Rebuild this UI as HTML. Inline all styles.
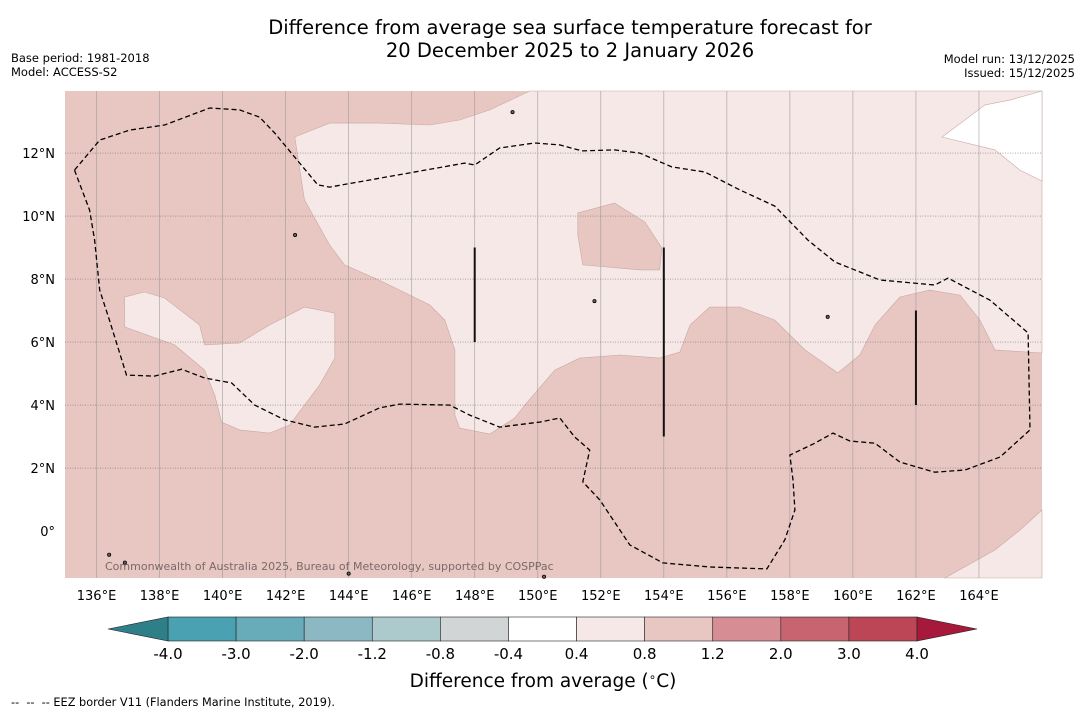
<!DOCTYPE html>
<html><head><meta charset="utf-8">
<style>
body{margin:0;background:#fff;width:1085px;height:713px;overflow:hidden;font-family:"DejaVu Sans","Liberation Sans",sans-serif}
svg{display:block}
</style></head>
<body>
<svg id="chart" width="1085" height="713" xmlns="http://www.w3.org/2000/svg">
<text x="570" y="34" font-size="19.5" text-anchor="middle" font-family="DejaVu Sans,sans-serif">Difference from average sea surface temperature forecast for</text>
<text x="570" y="57" font-size="19.5" text-anchor="middle" font-family="DejaVu Sans,sans-serif">20 December 2025 to 2 January 2026</text>
<text x="11" y="62" font-size="11.5">Base period: 1981-2018</text>
<text x="11" y="76" font-size="11.5">Model: ACCESS-S2</text>
<text x="1075" y="63" font-size="11.5" text-anchor="end">Model run: 13/12/2025</text>
<text x="1075" y="77" font-size="11.5" text-anchor="end">Issued: 15/12/2025</text>
<g id="map"></g>
<g id="cbar"></g>
<text x="543" y="687" font-size="18.5" text-anchor="middle">Difference from average (<tspan font-size="12" dy="-6">∘</tspan><tspan dy="6">C)</tspan></text>
<text x="11" y="706" font-size="11.3" xml:space="preserve">--  --  -- EEZ border V11 (Flanders Marine Institute, 2019).</text>
</svg>
<script>
const lonTicks=[136,138,140,142,144,146,148,150,152,154,156,158,160,162,164];
const latTicks=[0,2,4,6,8,10,12];
const lightRegion=[[142.29,12.51],[143.40,12.95],[144.98,12.95],[146.57,12.89],[147.52,13.05],[148.48,13.37],[149.75,13.97],[166,13.97],[166,5.65],[164.51,5.75],[164.03,6.70],[163.40,7.49],[162.44,7.65],[161.49,7.43],[160.70,6.54],[160.22,5.59],[159.52,5.02],[158.48,5.75],[157.52,6.70],[156.41,7.11],[155.46,7.11],[154.83,6.54],[154.51,5.68],[153.87,5.49],[152.60,5.59],[151.33,5.49],[150.54,5.11],[149.59,4.00],[149.27,3.59],[148.48,3.08],[147.52,3.27],[147.37,3.68],[147.37,5.75],[147.05,6.70],[146.57,7.18],[145.62,7.65],[144.83,8.03],[143.87,8.45],[143.40,9.08],[142.60,10.51]];
const whiteRegion=[[162.83,12.51],[164.19,13.53],[164.98,13.68],[166,13.97],[166,11.11],[165.30,11.46],[164.51,12.10]];
const darkPatch=[[151.27,10.10],[152.44,10.41],[153.40,9.81],[153.94,8.99],[153.87,8.29],[153.24,8.29],[151.43,8.45],[151.27,9.40]];
const lightLeft=[[136.89,7.43],[137.52,7.59],[138.16,7.40],[139.27,6.54],[139.43,5.91],[140.54,5.97],[141.49,6.54],[142.60,7.11],[143.56,6.92],[143.56,5.49],[143.08,4.64],[142.60,4.00],[142.13,3.37],[141.49,3.11],[140.54,3.21],[139.97,3.46],[139.75,4.32],[139.43,5.11],[138.48,5.91],[136.89,6.48]];
const lightBottomRight=[[166,0.67],[165.30,0.03],[164.51,-0.60],[162.92,-1.49],[166,-1.49]];
const eezLine=[[135.30,11.46],[135.78,10.19],[135.94,9.24],[136.10,7.65],[136.41,6.70],[136.95,4.95],[137.84,4.92],[138.70,5.14],[139.43,4.86],[140.29,4.70],[141.02,4.00],[141.97,3.53],[142.92,3.30],[143.87,3.40],[144.98,3.91],[145.62,4.03],[147.21,4.00],[147.84,3.68],[148.79,3.30],[150.06,3.46],[150.70,3.59],[151.17,2.99],[151.65,2.57],[151.43,1.56],[151.97,0.99],[152.92,-0.44],[153.97,-1.01],[155.46,-1.14],[157.27,-1.20],[157.84,-0.28],[158.16,0.67],[158.10,1.62],[158.00,2.41],[158.79,2.79],[159.37,3.11],[159.90,2.86],[160.70,2.79],[161.49,2.19],[162.60,1.87],[163.56,1.94],[164.67,2.35],[165.62,3.21],[165.56,6.29],[164.35,7.33],[163.02,8.03],[162.60,7.81],[160.86,7.97],[159.43,8.54],[158.57,9.24],[157.52,10.32],[156.41,10.83],[155.30,11.40],[154.25,11.56],[153.24,12.00],[152.44,12.10],[151.40,12.07],[150.70,12.26],[149.90,12.32],[148.79,12.16],[148.00,11.62],[147.68,11.68],[143.40,10.92],[143.02,10.99],[141.65,12.64],[141.17,13.14],[140.54,13.37],[139.59,13.43],[138.16,12.89],[137.05,12.73],[136.10,12.41],[135.30,11.46]];
const eezSegLon=[148,154,162];
const eezSegLat0=[6,3,4];
const eezSegLat1=[9,9,7];
const cbLabels=["-4.0","-3.0","-2.0","-1.2","-0.8","-0.4","0.4","0.8","1.2","2.0","3.0","4.0"];
const cbColors=["#4aa1b1","#68abb9","#8bb8c3","#acc9cc","#d1d5d6","#ffffff","#f5e8e6","#e8c6c2","#d68d94","#c8646f","#bd4656"];

const NS='http://www.w3.org/2000/svg';
const X0=65,X1=1042,Y0=91,Y1=578;
const lonMin=135,lonMax=166,latMin=-1.49,latMax=13.97;
const x=lon=>X0+(lon-lonMin)/(lonMax-lonMin)*(X1-X0);
const y=lat=>Y0+(latMax-lat)/(latMax-latMin)*(Y1-Y0);
function mk(tag,parent,attrs){const e=document.createElementNS(NS,tag);for(const k in attrs)e.setAttribute(k,attrs[k]);parent.appendChild(e);return e;}
const pts=a=>a.map(p=>x(p[0]).toFixed(1)+','+y(p[1]).toFixed(1)).join(' ');
const map=document.getElementById('map');
let bg=mk('rect',map,{x:X0,y:Y0,width:X1-X0,height:Y1-Y0,fill:'#e8c6c2'});


const regions=[[lightRegion,'#f5e8e6','anomaly-0.4-0.8-region'],[whiteRegion,'#ffffff','anomaly-neutral-region'],[darkPatch,'#e8c6c2','anomaly-0.8-1.2-patch'],[lightLeft,'#f5e8e6','anomaly-0.4-0.8-west-patch'],[lightBottomRight,'#f5e8e6','anomaly-0.4-0.8-southeast-patch']];
regions.forEach(r=>{const p=mk('polygon',map,{points:pts(r[0]),fill:r[1],stroke:'#c9a9a5','stroke-width':0.6});

});
lonTicks.forEach(l=>{const g=mk('line',map,{x1:x(l),x2:x(l),y1:Y0,y2:Y1,stroke:'#999','stroke-width':0.7,opacity:0.8});


const t=mk('text',map,{x:x(l),y:600,'font-size':13,'text-anchor':'middle'});t.textContent=l+'°E';

});
latTicks.forEach(l=>{if(l>0){const g=mk('line',map,{x1:X0,x2:X1,y1:y(l),y2:y(l),stroke:'#777','stroke-width':0.7,'stroke-dasharray':'1,1.5'});

}
const t=mk('text',map,{x:55,y:y(l)+5,'font-size':13,'text-anchor':'end'});t.textContent=l===0?'0°':l+'°N';

});
const ez=mk('polyline',map,{points:pts(eezLine),fill:'none',stroke:'#000','stroke-width':1.3,'stroke-dasharray':'5,3'});


eezSegLon.forEach((l,i)=>{const s=mk('line',map,{x1:x(l),x2:x(l),y1:y(eezSegLat0[i]),y2:y(eezSegLat1[i]),stroke:'#111','stroke-width':2});

});
const isl=[[136.4,-0.75],[136.9,-1.0],[151.8,7.3],[159.2,6.8],[142.3,9.4],[149.2,13.3],[144.0,-1.35],[150.2,-1.45]];
isl.forEach(p=>{const c=mk('circle',map,{cx:x(p[0]),cy:y(p[1]),r:1.6,fill:'#666',stroke:'#000','stroke-width':0.8});

});
const cp=mk('text',map,{x:105,y:570,'font-size':11,fill:'#7a6a68'});cp.textContent='Commonwealth of Australia 2025, Bureau of Meteorology, supported by COSPPac';



const cb=document.getElementById('cbar');
const B0=168,B1=917,CT=617,CB=641,bw=(B1-B0)/cbColors.length;
cbColors.forEach((c,i)=>{const r=mk('rect',cb,{x:B0+i*bw,y:CT,width:bw,height:CB-CT,fill:c,stroke:'#222','stroke-width':0.6});

});
const lt=mk('polygon',cb,{points:`108,629 ${B0},${CT} ${B0},${CB}`,fill:'#2f7f88',stroke:'#222','stroke-width':0.6});


const rt=mk('polygon',cb,{points:`977,629 ${B1},${CT} ${B1},${CB}`,fill:'#a6193a',stroke:'#222','stroke-width':0.6});


cbLabels.forEach((s,i)=>{const t=mk('text',cb,{x:B0+i*bw,y:659,'font-size':15,'text-anchor':'middle'});t.textContent=s;

});
</script>
</body></html>
